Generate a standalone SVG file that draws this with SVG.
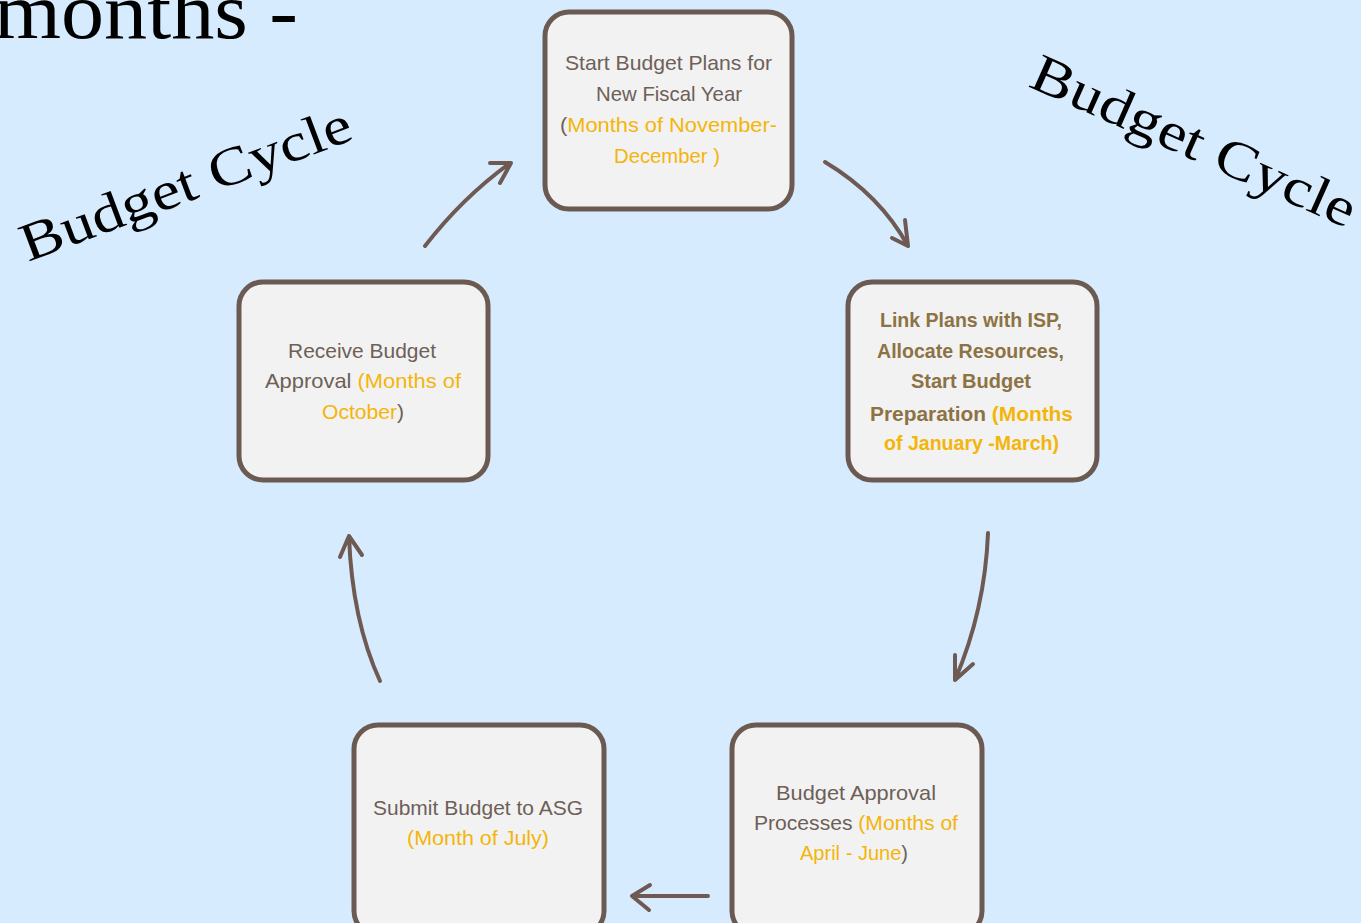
<svg xmlns="http://www.w3.org/2000/svg" width="1361" height="923" viewBox="0 0 1361 923">
<style>
.box{fill:#f2f2f2;stroke:#6b5a52;stroke-width:5}
.t{font-family:"Liberation Sans",Arial,sans-serif;font-size:21px;fill:#6e5f58}
.b{font-family:"Liberation Sans",Arial,sans-serif;font-size:21px;font-weight:bold;fill:#8c7245}
.y{fill:#f4b50a}
.d{fill:#6e5f58}
.big{font-family:"Liberation Serif","Times New Roman",serif;fill:#000}
.arr{fill:none;stroke:#6e5a52;stroke-width:4;stroke-linecap:round;stroke-linejoin:round}
</style>
<rect width="1361" height="923" fill="#d6ebfd"/>
<text class="big" x="-6" y="38" font-size="80" textLength="304" lengthAdjust="spacingAndGlyphs">months -</text>
<text class="big" font-size="54" textLength="350" lengthAdjust="spacingAndGlyphs" transform="translate(28,262) rotate(-20.6)">Budget Cycle</text>
<text class="big" font-size="54" textLength="350" lengthAdjust="spacingAndGlyphs" transform="translate(1027,86) rotate(24)">Budget Cycle</text>
<g id="connectors">
<path class="arr" d="M425,246 Q462,198 510,163 M490,163 L511,163 L500,183"/>
<path class="arr" d="M825,162 Q880,195 908,246 M892,238 L908,246 L905,220"/>
<path class="arr" d="M988,533 Q985,610 955,680 M955,655 L955,680 L973,664"/>
<path class="arr" d="M708,896 L632,896 M650,885 L632,896 L649,910"/>
<path class="arr" d="M380,681 Q352,620 349,536 M340,557 L349,536 L362,555"/>
</g>
<g id="node-top">
<rect class="box" x="545" y="12" width="247" height="197" rx="24"/>
<text class="t" x="565" y="70" textLength="207" lengthAdjust="spacingAndGlyphs">Start Budget Plans for</text>
<text class="t" x="596" y="101" textLength="146" lengthAdjust="spacingAndGlyphs">New Fiscal Year</text>
<text class="t" x="560" y="132" textLength="217" lengthAdjust="spacingAndGlyphs"><tspan class="d">(</tspan><tspan class="y">Months of November-</tspan></text>
<text class="t" x="614" y="163" textLength="106" lengthAdjust="spacingAndGlyphs"><tspan class="y">December )</tspan></text>
</g>
<g id="node-right">
<rect class="box" x="848" y="282" width="249" height="198" rx="24"/>
<text class="b" x="880" y="327" textLength="182" lengthAdjust="spacingAndGlyphs">Link Plans with ISP,</text>
<text class="b" x="877" y="358" textLength="187" lengthAdjust="spacingAndGlyphs">Allocate Resources,</text>
<text class="b" x="911" y="388" textLength="120" lengthAdjust="spacingAndGlyphs">Start Budget</text>
<text class="b" x="870" y="421" textLength="203" lengthAdjust="spacingAndGlyphs">Preparation  <tspan class="y">(Months</tspan></text>
<text class="b" x="884" y="450" textLength="175" lengthAdjust="spacingAndGlyphs"><tspan class="y">of January -March)</tspan></text>
</g>
<g id="node-left">
<rect class="box" x="239" y="282" width="249" height="198" rx="24"/>
<text class="t" x="288" y="358" textLength="148" lengthAdjust="spacingAndGlyphs">Receive Budget</text>
<text class="t" x="265" y="388" textLength="196" lengthAdjust="spacingAndGlyphs">Approval <tspan class="y">(Months of</tspan></text>
<text class="t" x="322" y="419" textLength="82" lengthAdjust="spacingAndGlyphs"><tspan class="y">October</tspan>)</text>
</g>
<g id="node-bottom-left">
<rect class="box" x="354" y="725" width="250" height="210" rx="24"/>
<text class="t" x="373" y="815" textLength="210" lengthAdjust="spacingAndGlyphs">Submit Budget to ASG</text>
<text class="t" x="407" y="845" textLength="142" lengthAdjust="spacingAndGlyphs"><tspan class="y">(Month of July)</tspan></text>
</g>
<g id="node-bottom-right">
<rect class="box" x="732" y="725" width="250" height="210" rx="24"/>
<text class="t" x="776" y="800" textLength="160" lengthAdjust="spacingAndGlyphs">Budget Approval</text>
<text class="t" x="754" y="830" textLength="204" lengthAdjust="spacingAndGlyphs">Processes <tspan class="y">(Months of</tspan></text>
<text class="t" x="800" y="860" textLength="108" lengthAdjust="spacingAndGlyphs"><tspan class="y">April - June</tspan>)</text>
</g>
</svg>
